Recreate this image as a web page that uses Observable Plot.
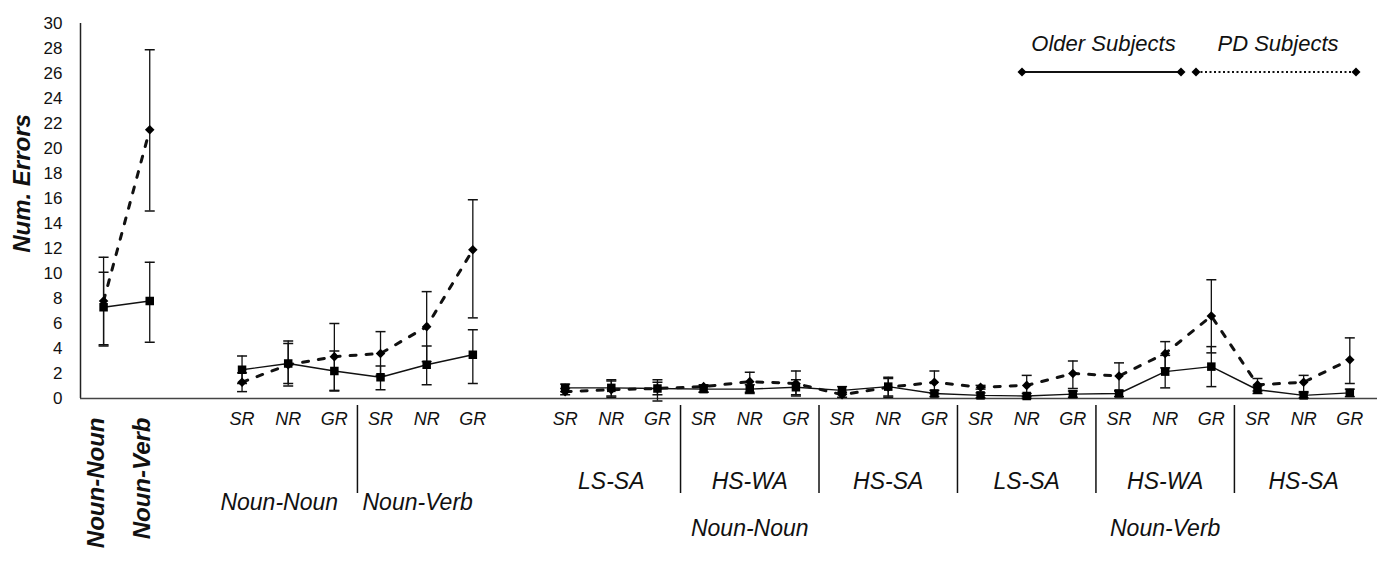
<!DOCTYPE html>
<html>
<head>
<meta charset="utf-8">
<script src="https://cdn.jsdelivr.net/npm/d3@7"></script>
<script src="https://cdn.jsdelivr.net/npm/@observablehq/plot@0.6"></script>
<style>
  html, body { margin: 0; padding: 0; background: #fff; }
  #wrap { position: relative; width: 1377px; height: 561px; font-family: "Liberation Sans", Arial, sans-serif; }
  #legend { position: absolute; left: 0; top: 0; pointer-events: none; }
</style>
</head>
<body>
<div id="wrap"></div>
<script>
// ---- category slots (0..27, slots 2 and 9 are empty spacers) ----
const slots = d3.range(28);
const tickLabels = ["Noun-Noun","Noun-Verb","",
  "SR","NR","GR","SR","NR","GR","",
  "SR","NR","GR","SR","NR","GR","SR","NR","GR",
  "SR","NR","GR","SR","NR","GR","SR","NR","GR"];

// ---- Older Subjects (solid line, squares) ----
const olderMean = [7.3, 7.8, null, 2.3, 2.8, 2.2, 1.7, 2.7, 3.5, null,
  0.85, 0.85, 0.8, 0.75, 0.75, 0.9, 0.65, 0.95, 0.4,
  0.25, 0.2, 0.35, 0.4, 2.15, 2.55, 0.7, 0.25, 0.45];
const olderLow  = [4.2, 4.5, null, 1.2, 1.2, 0.6, 0.7, 1.1, 1.2, null,
  0.55, 0.2, 0.3, 0.5, 0.4, 0.3, 0.35, 0.2, 0.15,
  0.05, 0.0, 0.1, 0.15, 0.85, 0.95, 0.4, 0.05, 0.15];
const olderHigh = [10.1, 10.9, null, 3.4, 4.4, 3.8, 2.6, 4.2, 5.5, null,
  1.15, 1.4, 1.3, 1.0, 1.1, 1.5, 0.95, 1.6, 0.65,
  0.45, 0.4, 0.6, 0.65, 3.45, 4.15, 1.0, 0.45, 0.75];

// ---- PD Subjects (dashed line, diamonds) ----
const pdMean = [7.8, 21.5, null, 1.3, 2.7, 3.35, 3.6, 5.75, 11.9, null,
  0.55, 0.7, 0.8, 0.95, 1.35, 1.2, 0.3, 0.9, 1.3,
  0.9, 1.05, 2.0, 1.8, 3.6, 6.6, 1.1, 1.3, 3.1];
const pdLow  = [4.3, 15.0, null, 0.55, 1.0, 0.65, 1.85, 2.95, 6.45, null,
  0.3, 0.1, -0.2, 0.5, 0.5, 0.2, 0.1, 0.1, 0.4,
  0.75, 0.15, 0.8, 0.6, 2.45, 3.65, 0.6, 0.55, 1.2];
const pdHigh = [11.3, 27.9, null, 2.05, 4.6, 6.0, 5.35, 8.55, 15.9, null,
  0.8, 1.5, 1.5, 1.1, 2.1, 2.2, 0.5, 1.7, 2.2,
  1.05, 1.85, 3.0, 2.85, 4.55, 9.5, 1.6, 1.85, 4.85];

// ---- grouping labels ----
const subGroupLabels = ["LS-SA","HS-WA","HS-SA","LS-SA","HS-WA","HS-SA"];
const subGroupSlots  = [11, 14, 17, 20, 23, 26];
const wordGroupLabels = ["Noun-Noun","Noun-Verb"];
const wordGroupSlots2 = [4, 7];     // block of 3 conditions
const wordGroupSlots3 = [14, 23];   // block of 9 conditions
const separatorSlots = [5.5, 12.5, 15.5, 18.5, 21.5, 24.5];
const yTicks = d3.range(0, 31, 2);

// ---- build tables ----
const older = slots.map(i => ({slot: i, mean: olderMean[i], lo: olderLow[i], hi: olderHigh[i]}));
const pd = slots.map(i => ({slot: i, mean: pdMean[i], lo: pdLow[i], hi: pdHigh[i]}));
const labelled = slots.map(i => ({slot: i, label: tickLabels[i]}));
const conditionTicks = labelled.filter(d => d.label === "SR" || d.label === "NR" || d.label === "GR");
const rotatedTicks = labelled.filter(d => d.slot < 2);
const subGroups = subGroupLabels.map((l, i) => ({slot: subGroupSlots[i], label: l}));
const words2 = wordGroupLabels.map((l, i) => ({slot: wordGroupSlots2[i], label: l}));
const words3 = wordGroupLabels.map((l, i) => ({slot: wordGroupSlots3[i], label: l}));

// horizontal cap symbol for error bars
const capSymbol = {draw(ctx, size) { const w = Math.sqrt(size / Math.PI); ctx.moveTo(-w, 0); ctx.lineTo(w, 0); }};

const errBars = (data) => [
  Plot.ruleX(data.filter(d => d.mean != null), {x: "slot", y1: "lo", y2: "hi", stroke: "#111", strokeWidth: 1.3}),
  Plot.dot(data.filter(d => d.mean != null), {x: "slot", y: "lo", symbol: capSymbol, r: 5, stroke: "#111", strokeWidth: 1.5, fill: "none"}),
  Plot.dot(data.filter(d => d.mean != null), {x: "slot", y: "hi", symbol: capSymbol, r: 5, stroke: "#111", strokeWidth: 1.5, fill: "none"})
];

const chart = Plot.plot({
  width: 1377,
  height: 561,
  marginLeft: 80,
  marginRight: 0,
  marginTop: 23,
  marginBottom: 163,
  style: {fontFamily: "'Liberation Sans', Arial, sans-serif", fontSize: "17px", color: "#111", background: "#fff"},
  x: {domain: [-0.5, 27.6], axis: null},
  y: {domain: [0, 30], axis: null},
  marks: [
    Plot.axisY({ticks: yTicks, tickSize: 0, tickPadding: 18, fontSize: 17, label: null}),
    Plot.ruleX([-0.5], {stroke: "#222", strokeWidth: 1.5}),
    Plot.ruleY([0], {stroke: "#444", strokeWidth: 1.5}),
    // error bars
    ...errBars(older),
    ...errBars(pd),
    // lines
    Plot.line(older, {x: "slot", y: "mean", stroke: "#111", strokeWidth: 1.4}),
    Plot.line(pd, {x: "slot", y: "mean", stroke: "#111", strokeWidth: 3, strokeDasharray: "6,10"}),
    // markers
    Plot.dot(pd.filter(d => d.mean != null), {x: "slot", y: "mean", symbol: "diamond2", r: 4.3, fill: "#000", stroke: "none"}),
    Plot.dot(older.filter(d => d.mean != null), {x: "slot", y: "mean", symbol: "square", r: 4.8, fill: "#000", stroke: "none"}),
    // category labels under the axis
    Plot.text(conditionTicks, {x: "slot", text: "label", frameAnchor: "bottom", dy: 26, fontSize: 18, fontStyle: "italic", fill: "#111"}),
    Plot.text(rotatedTicks, {x: "slot", text: "label", frameAnchor: "bottom", dy: 19, rotate: -90, textAnchor: "end", fontSize: 24, fontWeight: "bold", fontStyle: "italic", fill: "#111"}),
    // separators
    Plot.ruleX(separatorSlots, {x: d => d, y1: 0, y2: 0, insetTop: 7, insetBottom: -95, stroke: "#111", strokeWidth: 1.5}),
    // group labels
    Plot.text(subGroups, {x: "slot", text: "label", frameAnchor: "bottom", dy: 90, fontSize: 23, fontStyle: "italic", fill: "#111"}),
    Plot.text(words2, {x: "slot", text: "label", frameAnchor: "bottom", dy: 111, dx: -9, fontSize: 23, fontStyle: "italic", fill: "#111"}),
    Plot.text(words3, {x: "slot", text: "label", frameAnchor: "bottom", dy: 137, fontSize: 23, fontStyle: "italic", fill: "#111"}),
    // y title
    Plot.text(["Num. Errors"], {text: d => d, y: () => 17.2, frameAnchor: "left", textAnchor: "middle", dx: -58, rotate: -90, fontSize: 24, fontWeight: "bold", fontStyle: "italic", fill: "#111"})
  ]
});

const wrap = document.getElementById("wrap");
wrap.appendChild(chart);

// ---- legend (inside the plot area, top right) ----
const ns = "http://www.w3.org/2000/svg";
const leg = document.createElementNS(ns, "svg");
leg.setAttribute("id", "legend");
leg.setAttribute("width", 1377);
leg.setAttribute("height", 100);
const legendItems = [
  {label: "Older Subjects", x1: 1022, x2: 1181, dash: null, w: 2.2},
  {label: "PD Subjects", x1: 1196, x2: 1356, dash: "2,2.5", w: 2}
];
legendItems.forEach(it => {
  const t = document.createElementNS(ns, "text");
  t.setAttribute("x", (it.x1 + it.x2) / 2 + 2);
  t.setAttribute("y", 51);
  t.setAttribute("text-anchor", "middle");
  t.setAttribute("font-size", 22);
  t.setAttribute("font-style", "italic");
  t.setAttribute("font-family", "'Liberation Sans', Arial, sans-serif");
  t.setAttribute("fill", "#111");
  t.textContent = it.label;
  leg.appendChild(t);
  const l = document.createElementNS(ns, "line");
  l.setAttribute("x1", it.x1); l.setAttribute("x2", it.x2);
  l.setAttribute("y1", 72); l.setAttribute("y2", 72);
  l.setAttribute("stroke", "#111"); l.setAttribute("stroke-width", it.w);
  if (it.dash) l.setAttribute("stroke-dasharray", it.dash);
  leg.appendChild(l);
  [it.x1, it.x2].forEach(x => {
    const p = document.createElementNS(ns, "path");
    p.setAttribute("d", `M${x},${72 - 4.5}L${x + 4.5},72L${x},${72 + 4.5}L${x - 4.5},72Z`);
    p.setAttribute("fill", "#000");
    leg.appendChild(p);
  });
});
wrap.appendChild(leg);
</script>
</body>
</html>
